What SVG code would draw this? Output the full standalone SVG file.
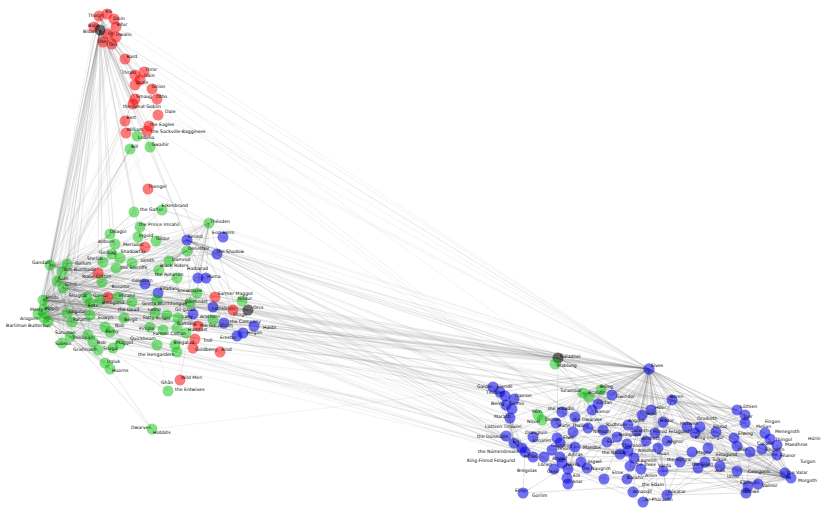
<svg xmlns="http://www.w3.org/2000/svg" width="830" height="518" viewBox="0 0 830 518">
<style>
text{font-family:"DejaVu Sans","Liberation Sans",sans-serif;font-size:4.6px;fill:#000}
circle{stroke:none}
.r{fill:#f00;fill-opacity:.52}
.g{fill:#00c000;fill-opacity:.48}
.b{fill:#0000e6;fill-opacity:.55}
.k{fill:#000;fill-opacity:.55}
.e{fill:none;stroke:#707070;stroke-opacity:.19;stroke-width:.45;stroke-linejoin:round}
.e2{fill:none;stroke:#707070;stroke-opacity:.24;stroke-width:.45;stroke-linejoin:round}
</style>
<rect width="830" height="518" fill="#fff"/>
<g id="connectors">
<path class="e" d="M100,30 99,16 100,30 107,14 100,30 114,19 100,30 94,27 100,30 116,27 100,30 108,34 100,30 116,37 100,30 103,42 100,30 112,44 100,30 125,59 100,30 135,99 100,30 144,72 100,30 135,75 100,30 140,80 100,30 133,104 100,30 125,121 100,30 126,133 100,30 149,126 100,30 147,131 100,30 137,136 100,30 150,147 100,30 50,265 100,30 43,300 100,30 57,281 100,30 67,264 100,30 38,314 100,30 44,309 100,30 44,318 100,30 98,273 100,30 187,240 100,30 63,288 100,30 67,313 100,30 102,282 100,30 48,322 100,30 62,272 100,30 116,268 100,30 70,337 100,30 110,234 100,30 134,212 100,30 155,313 100,30 233,310 100,30 157,99 100,30 649,369 100,30 558,358"/>
<path class="e" d="M99,16 107,14 99,16 94,27 99,16 116,37 99,16 125,59 99,16 135,99 99,16 144,72 99,16 135,85 99,16 140,80 99,16 135,75 99,16 133,104 99,16 50,265 99,16 43,300 99,16 187,240 99,16 649,369"/>
<path class="e" d="M125,59 152,89 M125,59 135,99 M125,59 158,115 M125,59 50,265 M125,59 649,369 M144,72 135,75 M144,72 50,265 M144,72 575,417 M135,75 140,80 M140,80 63,288 M140,80 575,417 M135,85 63,288 M135,85 575,417 M135,99 158,115 M135,99 50,265 M135,99 649,369 M152,89 649,369 M158,115 649,369 M125,121 126,133 M125,121 57,281 M126,133 57,281 M137,136 157,99 M137,136 147,131 M137,136 43,300 M147,131 43,300 M150,147 149,126 M150,147 50,265 M149,126 50,265 M149,126 627,444 M133,104 50,265 M94,27 43,300 M94,27 63,288 M94,27 103,42 M114,19 63,288 M114,19 43,300 M114,19 112,44 M114,19 649,369 M116,37 50,265 M112,44 63,288 M107,14 50,265 M103,42 50,265 M116,27 50,265 M108,34 63,288 M130,149 48,322"/>
<path class="e" d="M43,300 57,281 43,300 50,265 43,300 67,264 43,300 38,314 43,300 44,309 43,300 44,318 43,300 63,288 43,300 67,313 43,300 102,282 43,300 72,322 43,300 98,273 43,300 62,272 43,300 48,322 43,300 103,262 43,300 112,254 43,300 87,297 43,300 116,268 43,300 70,337 43,300 215,297 43,300 155,313 43,300 167,315 43,300 134,212 43,300 110,234 43,300 145,284 43,300 187,240 43,300 190,303 43,300 105,327 43,300 110,332 43,300 130,149 43,300 150,327 43,300 90,315 43,300 254,326 43,300 224,323 43,300 248,310 43,300 159,270 43,300 105,363 43,300 98,350 43,300 242,301 43,300 62,343 43,300 163,330 43,300 124,318 43,300 132,263 43,300 88,335 43,300 90,303 43,300 209,223 43,300 187,251 43,300 120,258 43,300 213,307 43,300 193,314 43,300 198,326 43,300 233,310 43,300 649,369 43,300 558,358 43,300 672,400 43,300 737,410"/>
<path class="e" d="M57,281 50,265 57,281 67,264 57,281 38,314 57,281 44,309 57,281 44,318 57,281 98,273 57,281 134,212 57,281 103,262 57,281 112,254 57,281 87,297 57,281 163,330 57,281 186,333 57,281 130,149 57,281 48,322 57,281 62,272 57,281 215,297 57,281 155,313 57,281 105,327 57,281 110,332 57,281 150,327 57,281 145,284 57,281 72,322 57,281 88,335 57,281 187,240 57,281 195,339 57,281 248,310 57,281 159,270 57,281 113,348 57,281 63,288 57,281 67,313 57,281 649,369 57,281 558,358 57,281 672,400 57,281 737,410 57,281 748,486"/>
<path class="e" d="M50,265 44,318 50,265 38,314 50,265 44,309 50,265 63,288 50,265 67,313 50,265 102,282 50,265 70,337 50,265 209,223 50,265 187,251 50,265 187,240 50,265 120,258 50,265 88,335 50,265 67,264 50,265 242,301 50,265 62,343 50,265 177,278 50,265 118,297 50,265 100,300 50,265 72,322 50,265 90,315 50,265 190,303 50,265 248,310 50,265 159,270 50,265 48,322 50,265 62,272 50,265 157,300 50,265 162,210 50,265 217,254 50,265 90,303 50,265 206,278 50,265 177,328 50,265 138,237 50,265 197,293 50,265 649,369 50,265 791,478 50,265 525,452 50,265 672,400"/>
<path class="e" d="M44,318 38,314 44,318 44,309 44,318 63,288 44,318 67,313 44,318 102,282 44,318 90,315 44,318 72,322 44,318 187,240 44,318 213,320 44,318 242,301 44,318 198,278 44,318 158,293 44,318 209,223 44,318 187,251 44,318 118,297 44,318 100,300 44,318 132,263 44,318 124,318 44,318 48,322 44,318 206,278 44,318 177,328 44,318 162,210 44,318 132,302 44,318 70,337 44,318 62,343 44,318 145,284 44,318 140,227 44,318 224,323 44,318 177,278 44,318 649,369 44,318 737,410 44,318 672,400 44,318 500,392 44,318 506,436 44,318 525,452 44,318 604,479"/>
<path class="e" d="M38,314 44,309 38,314 209,223 38,314 90,315 38,314 88,335 38,314 90,303 38,314 62,272 38,314 167,315 38,314 215,297 38,314 70,337 38,314 105,363 38,314 98,350 38,314 113,348 38,314 157,345 38,314 175,345 38,314 177,352 38,314 110,369 38,314 145,247 38,314 177,278 38,314 197,293 38,314 649,369"/>
<path class="e" d="M44,309 88,335 44,309 187,251 44,309 100,300 44,309 124,318 44,309 72,322 44,309 105,363 44,309 98,350 44,309 90,303 44,309 70,337 44,309 118,297 44,309 120,258 44,309 132,263 44,309 132,302 44,309 649,369 44,309 525,452"/>
<path class="e" d="M67,264 110,234 67,264 103,262 67,264 72,322 67,264 115,244 67,264 112,254 67,264 248,310 67,264 62,343 67,264 87,297 67,264 169,261"/>
<path class="e" d="M63,288 67,313 63,288 254,326 63,288 102,282 63,288 88,335 63,288 132,302 63,288 248,310 63,288 145,284 63,288 213,307 63,288 220,352 63,288 558,358 63,288 575,417 63,288 649,369"/>
<path class="e" d="M67,313 254,326 67,313 248,310 67,313 213,307 67,313 145,284 67,313 132,302 67,313 102,282 67,313 88,335 67,313 187,240 67,313 190,303 67,313 220,352 67,313 649,369"/>
<path class="e" d="M209,223 90,315 209,223 177,328 209,223 206,278 209,223 162,210 209,223 70,337 209,223 157,300 209,223 197,293 209,223 148,189 209,223 177,278 209,223 180,380 209,223 187,251 209,223 120,258 209,223 177,352 209,223 198,278 209,223 243,333 209,223 649,369"/>
<path class="e" d="M187,251 72,322 187,251 102,282 187,251 100,300 187,251 118,297 187,251 140,227 187,251 138,237 187,251 132,263 187,251 217,254 187,251 243,333 187,251 525,452 187,251 169,261 187,251 115,244"/>
<path class="e" d="M70,337 88,335 70,337 157,300 70,337 177,352 70,337 248,310 70,337 62,343 70,337 105,363 70,337 155,313 70,337 98,350 70,337 113,348 70,337 110,369 70,337 152,429 70,337 150,327"/>
<path class="e" d="M88,335 90,303 88,335 157,345 88,335 175,345 88,335 110,369 88,335 168,391 88,335 177,352 88,335 152,429"/>
<path class="e" d="M187,240 190,303 187,240 237,336 187,240 158,293 187,240 145,284 187,240 156,241 187,240 242,301 187,240 213,320 187,240 223,237 187,240 217,254 187,240 224,323 187,240 649,369 187,240 558,358 187,240 737,410 187,240 672,400 187,240 500,392 187,240 604,479 187,240 748,486 187,240 506,436 187,240 525,452 187,240 620,454 187,240 791,478 187,240 493,387"/>
<path class="e" d="M105,363 98,350 M105,363 113,348 M180,380 177,278 M168,391 90,303 M168,391 157,345 M193,348 62,272 M195,339 125,121 M195,339 126,133 M152,429 110,369 M152,429 649,369 M62,343 791,478 M62,343 525,452 M62,343 649,369 M62,343 500,392 M62,343 785,473 M102,282 525,452 M72,322 525,452 M72,322 506,436 M145,284 649,369 M145,284 770,439 M178,318 500,392 M178,318 649,369 M178,318 620,454 M178,318 525,452 M190,303 649,369 M190,303 620,454 M223,237 649,369 M223,237 525,452 M223,237 672,400 M217,254 791,478 M217,254 649,369 M217,254 737,410 M254,326 649,369 M254,326 617,437 M213,307 649,369 M213,307 544,457 M224,323 649,369 M224,323 562,412 M248,310 649,369 M248,310 791,478 M248,310 575,417 M248,310 560,443 M248,310 506,405 M237,336 649,369 M237,336 493,387 M237,336 514,443 M213,320 506,436 M213,320 500,392 M242,301 500,392 M242,301 525,452 M242,301 649,369 M193,314 649,369 M193,314 533,437 M158,293 649,369 M158,293 748,486 M162,210 649,369 M206,278 177,328 M206,278 510,418 M198,278 506,436 M220,352 583,393 M243,333 493,387 M87,297 112,254 M103,262 112,254 M118,297 100,300 M163,330 98,273 M134,212 98,273"/>
<path class="e" d="M558,358 145,284 558,358 213,307 558,358 254,326 558,358 649,369 558,358 745,423 558,358 716,432 558,358 777,455 558,358 620,454 558,358 557,438 558,358 555,364"/>
<path class="e2" d="M649,369 493,387 649,369 500,392 649,369 514,399 649,369 601,390 649,369 583,393 649,369 612,395 649,369 672,400 649,369 598,404 649,369 651,410 649,369 737,410 649,369 562,412 649,369 592,410 649,369 642,415 649,369 510,418 649,369 575,417 649,369 628,425 649,369 663,422 649,369 687,427 649,369 745,423 649,369 637,431 649,369 655,433 649,369 695,433 649,369 533,437 649,369 617,437 649,369 506,436 649,369 557,438 649,369 514,443 649,369 607,442 649,369 667,441 649,369 627,444 649,369 575,447 649,369 620,454 649,369 658,448 649,369 634,458 649,369 680,462 649,369 581,462 649,369 630,466 649,369 663,471 649,369 698,468 649,369 587,468 649,369 604,479 649,369 785,473 649,369 791,478 649,369 641,469 649,369 627,479 649,369 633,492 649,369 667,495 649,369 746,493 649,369 643,502 649,369 750,452 649,369 777,455 649,369 745,415 649,369 700,427 649,369 770,439 649,369 716,432 649,369 525,452 649,369 765,433 649,369 748,486 649,369 758,484"/>
<path class="e2" d="M791,478 672,400 791,478 737,410 791,478 745,423 791,478 750,452 791,478 777,455 791,478 785,473 791,478 746,493 791,478 588,428 791,478 583,393 791,478 770,439 791,478 777,445 791,478 745,415 791,478 765,433 791,478 716,432 791,478 667,495 791,478 748,486 791,478 758,484 791,478 560,443 791,478 762,449 791,478 737,446 791,478 695,433 791,478 658,448 791,478 663,471 791,478 720,466 791,478 705,462 791,478 620,454 791,478 687,427 791,478 663,422 791,478 642,415 791,478 627,479 791,478 523,493 791,478 533,437 791,478 700,427 791,478 708,448 791,478 737,471 791,478 692,452"/>
<path class="e2" d="M672,400 737,410 672,400 770,439 672,400 627,479 672,400 716,432 672,400 708,448 672,400 745,423 672,400 658,448 672,400 523,493 672,400 642,415 672,400 737,446 672,400 765,433 672,400 695,433 672,400 655,433 672,400 533,437 672,400 762,449 672,400 737,471 672,400 745,415 672,400 663,422 672,400 651,410"/>
<path class="e2" d="M583,393 601,390 583,393 589,397 583,393 592,410 583,393 542,420 583,393 538,415 583,393 556,423 583,393 588,428 583,393 687,427 583,393 612,395 583,393 562,412 583,393 575,417 583,393 555,364 583,393 598,404 583,393 663,422 583,393 651,410 583,393 770,439 583,393 745,423 583,393 617,437 583,393 603,430 583,393 607,442"/>
<path class="e2" d="M695,433 745,423 695,433 737,410 695,433 557,438 695,433 765,433 695,433 737,446 695,433 601,390 695,433 555,364 695,433 514,399 695,433 770,439 695,433 607,442 695,433 558,358 695,433 716,432 695,433 745,415 695,433 734,438 695,433 667,441"/>
<path class="e2" d="M525,452 604,479 525,452 643,502 525,452 506,436 525,452 633,492 525,452 533,457 525,452 500,392 525,452 493,387 525,452 514,443 525,452 522,448 525,452 523,493 525,452 785,473"/>
<path class="e2" d="M746,493 785,473 746,493 663,471 746,493 720,466 746,493 748,486 746,493 758,484 746,493 667,495 746,493 705,462 746,493 777,455 746,493 734,438 746,493 698,468 746,493 680,462 746,493 750,452 746,493 737,471"/>
<path class="e2" d="M667,495 785,473 667,495 663,471 667,495 720,466 667,495 514,443 667,495 643,502 667,495 633,492 667,495 630,466 667,495 680,462 667,495 698,468 667,495 641,469"/>
<path class="e2" d="M716,432 737,410 716,432 655,433 716,432 667,441 716,432 628,425 716,432 642,415 716,432 700,427 716,432 750,452 716,432 620,454 716,432 708,448 716,432 745,423 716,432 762,449 716,432 737,471 716,432 770,439"/>
<path class="e2" d="M777,455 750,452 777,455 777,445 777,455 692,452 777,455 762,449 777,455 737,471 777,455 620,454 777,455 758,484 777,455 770,439 777,455 745,423 777,455 734,438 777,455 737,446 777,455 637,431 777,455 560,457 777,455 562,463 777,455 698,468 777,455 575,447"/>
<path class="e2" d="M588,428 687,427 588,428 592,410 588,428 651,410 588,428 663,422 588,428 562,412 588,428 556,423 588,428 538,415 588,428 617,437 588,428 603,430 588,428 601,390 588,428 573,432 588,428 557,438 588,428 560,443 588,428 552,450"/>
<path class="e2" d="M514,443 522,448 514,443 506,436 514,443 493,387 514,443 500,392 514,443 505,396 514,443 510,418 514,443 506,405 514,443 512,409 514,443 533,457 514,443 544,457 514,443 554,469 514,443 568,469 514,443 552,450 514,443 560,457 514,443 560,443 514,443 533,437 514,443 568,484 514,443 567,478"/>
<path class="e2" d="M575,447 560,457 575,447 562,463 575,447 581,462 575,447 587,468 575,447 568,469 575,447 554,469 575,447 544,457 575,447 557,438 575,447 573,432 575,447 575,417 575,447 562,412 575,447 556,423 575,447 542,420 575,447 560,443 575,447 552,450 575,447 568,484 575,447 567,478 575,447 604,479 575,447 620,454 575,447 628,451 575,447 634,458 575,447 627,444 575,447 617,437 575,447 607,442"/>
<path class="e2" d="M663,471 630,466 663,471 634,458 663,471 641,469 663,471 698,468 663,471 680,462 663,471 705,462 663,471 720,466 663,471 785,473 663,471 737,471 663,471 627,479 663,471 633,492 663,471 643,502 663,471 604,479 663,471 658,448 663,471 646,441 663,471 637,431 663,471 667,441"/>
<path class="e2" d="M500,392 493,387 M493,387 505,396 M514,399 505,396 M506,405 512,409 M510,418 506,405 M533,437 522,448 M560,443 557,438 M575,447 560,457 M544,457 533,457 M568,469 554,469 M567,478 568,484 M581,462 587,468 M620,454 628,451 M630,466 634,458 M641,469 568,484 M627,479 604,479 M627,444 628,451 M646,441 642,415 M637,431 646,441 M658,448 667,441 M680,462 705,462 M698,468 720,466 M737,471 785,473 M555,364 598,404 M601,390 612,395 M592,410 598,404 M651,410 642,415 M663,422 651,410 M687,427 700,427"/>
</g>
<g id="nodes">
<g id="n-thorin"><circle class="r" cx="99" cy="16" r="5.5"/><text x="88" y="16.5">Thorin</text></g>
<g id="n-kili"><circle class="r" cx="107" cy="14" r="5.5"/><text x="105.5" y="13">Kili</text></g>
<g id="n-gloin"><circle class="r" cx="114" cy="19" r="5.5"/><text x="113" y="19.5">Gloin</text></g>
<g id="n-balin"><circle class="r" cx="94" cy="27" r="5.5"/><text x="88" y="26.5">Balin</text></g>
<g id="n-bifur"><circle class="r" cx="116" cy="27" r="5.5"/><text x="116.5" y="25.5">Bifur</text></g>
<g id="n-ori"><circle class="r" cx="108" cy="34" r="5.5"/><text x="108" y="35">Ori</text></g>
<g id="n-dwalin"><circle class="r" cx="116" cy="37" r="5.5"/><text x="116" y="35.5">Dwalin</text></g>
<g id="n-dori"><circle class="r" cx="103" cy="42" r="5.5"/><text x="98" y="43">Dori</text></g>
<g id="n-oin"><circle class="r" cx="112" cy="44" r="5.5"/><text x="109" y="45.5">Oin</text></g>
<g id="n-bilbo"><circle class="k" cx="100" cy="30" r="5.5"/><text x="83" y="33">Bilbo</text></g>
<g id="n-bard"><circle class="r" cx="125" cy="59" r="5.5"/><text x="126.5" y="57.5">Bard</text></g>
<g id="n-thror"><circle class="r" cx="144" cy="72" r="5.5"/><text x="145" y="70.5">Thror</text></g>
<g id="n-thrain"><circle class="r" cx="135" cy="75" r="5.5"/><text x="121.5" y="74">Thrain</text></g>
<g id="n-dain"><circle class="r" cx="140" cy="80" r="5.5"/><text x="144" y="77">Dain</text></g>
<g id="n-durin"><circle class="r" cx="135" cy="85" r="5.5"/><text x="136" y="84">Durin</text></g>
<g id="n-girion"><circle class="r" cx="152" cy="89" r="5.5"/><text x="151.5" y="87.5">Girion</text></g>
<g id="n-smaug"><circle class="r" cx="135" cy="99" r="5.5"/><text x="136" y="98">Smaug</text></g>
<g id="n-otho"><circle class="r" cx="157" cy="99" r="5.5"/><text x="156" y="97.5">Otho</text></g>
<g id="n-great-goblin"><circle class="r" cx="133" cy="104" r="5.5"/><text x="123" y="107.5">the Great Goblin</text></g>
<g id="n-dale"><circle class="r" cx="158" cy="115" r="5.5"/><text x="165" y="113">Dale</text></g>
<g id="n-bert"><circle class="r" cx="125" cy="121" r="5.5"/><text x="126.5" y="119">Bert</text></g>
<g id="n-eagles"><circle class="r" cx="149" cy="126" r="5.5"/><text x="150" y="126">the Eagles</text></g>
<g id="n-william"><circle class="r" cx="126" cy="133" r="5.5"/><text x="126.5" y="130.5">William</text></g>
<g id="n-sackville"><circle class="r" cx="147" cy="131" r="5.5"/><text x="151" y="132.5">the Sackville-Bagginses</text></g>
<g id="n-lobelia"><circle class="g" cx="137" cy="136" r="5.5"/><text x="138" y="139">Lobelia</text></g>
<g id="n-bill"><circle class="g" cx="130" cy="149" r="5.5"/><text x="131" y="148">Bill</text></g>
<g id="n-gwaihir"><circle class="g" cx="150" cy="147" r="5.5"/><text x="151.5" y="146">Gwaihir</text></g>
<g id="n-thengel"><circle class="r" cx="148" cy="189" r="5.5"/><text x="148" y="187.5">Thengel</text></g>
<g id="n-gaffer"><circle class="g" cx="134" cy="212" r="5.5"/><text x="140" y="210.5">the Gaffer</text></g>
<g id="n-erkenbrand"><circle class="g" cx="162" cy="210" r="5.5"/><text x="161.5" y="207">Erkenbrand</text></g>
<g id="n-theoden"><circle class="g" cx="209" cy="223" r="5.5"/><text x="210" y="223">Théoden</text></g>
<g id="n-prince-imrahil"><circle class="g" cx="140" cy="227" r="5.5"/><text x="139" y="225.5">the Prince Imrahil</text></g>
<g id="n-deagol"><circle class="g" cx="110" cy="234" r="5.5"/><text x="110" y="232.5">Déagol</text></g>
<g id="n-ingold"><circle class="g" cx="138" cy="237" r="5.5"/><text x="139" y="236.5">Ingold</text></g>
<g id="n-eorl-helm"><circle class="b" cx="223" cy="237" r="5.5"/><text x="212" y="234">Eorl Helm</text></g>
<g id="n-gildor"><circle class="g" cx="156" cy="241" r="5.5"/><text x="156" y="240">Gildor</text></g>
<g id="n-elrond"><circle class="b" cx="187" cy="240" r="5.5"/><text x="188" y="238">Elrond</text></g>
<g id="n-anborn"><circle class="g" cx="115" cy="244" r="5.5"/><text x="98" y="242.5">Anborn</text></g>
<g id="n-meriadoc"><circle class="r" cx="145" cy="247" r="5.5"/><text x="123" y="245.5">Meriadoc</text></g>
<g id="n-denethor"><circle class="g" cx="187" cy="251" r="5.5"/><text x="188" y="249.5">Denethor</text></g>
<g id="n-shadow"><circle class="b" cx="217" cy="254" r="5.5"/><text x="217" y="252.5">the Shadow</text></g>
<g id="n-gorbag"><circle class="g" cx="112" cy="254" r="5.5"/><text x="99" y="254">Gorbag</text></g>
<g id="n-shadowfax"><circle class="g" cx="120" cy="258" r="5.5"/><text x="120.5" y="252.5">Shadowfax</text></g>
<g id="n-shelob"><circle class="g" cx="103" cy="262" r="5.5"/><text x="87" y="259.5">Shelob</text></g>
<g id="n-ioreth"><circle class="g" cx="132" cy="263" r="5.5"/><text x="141" y="261.5">Ioreth</text></g>
<g id="n-damrod"><circle class="g" cx="169" cy="261" r="5.5"/><text x="172" y="261">Damrod</text></g>
<g id="n-shirriffs"><circle class="g" cx="116" cy="268" r="5.5"/><text x="120.5" y="269">the Shirriffs</text></g>
<g id="n-black-riders"><circle class="g" cx="159" cy="270" r="5.5"/><text x="160" y="266.5">Black Riders</text></g>
<g id="n-rosie"><circle class="r" cx="98" cy="273" r="5.5"/><text x="82" y="277.5">Rosie Cotton</text></g>
<g id="n-tom"><circle class="g" cx="62" cy="272" r="5.5"/><text x="63" y="270.5">Tom Bombadil</text></g>
<g id="n-gandalf"><circle class="g" cx="50" cy="265" r="5.5"/><text x="32" y="264">Gandalf</text></g>
<g id="n-gollum"><circle class="g" cx="67" cy="264" r="5.5"/><text x="75" y="264.5">Gollum</text></g>
<g id="n-sam"><circle class="g" cx="57" cy="281" r="5.5"/><text x="58" y="279.5">Sam</text></g>
<g id="n-gimli"><circle class="g" cx="63" cy="288" r="5.5"/><text x="65" y="286">Gimli</text></g>
<g id="n-boromir"><circle class="g" cx="102" cy="282" r="5.5"/><text x="111.5" y="287.5">Boromir</text></g>
<g id="n-celeborn"><circle class="b" cx="145" cy="284" r="5.5"/><text x="132" y="281.5">Celeborn</text></g>
<g id="n-elladan"><circle class="b" cx="158" cy="293" r="5.5"/><text x="160" y="289.5">Elladan</text></g>
<g id="n-rohirrim"><circle class="g" cx="177" cy="278" r="5.5"/><text x="155" y="275.5">the Rohirrim</text></g>
<g id="n-halbarad"><circle class="b" cx="198" cy="278" r="5.5"/><text x="187" y="270">Halbarad</text></g>
<g id="n-hama"><circle class="b" cx="206" cy="278" r="5.5"/><text x="207" y="277.5">Hama</text></g>
<g id="n-snowmane"><circle class="g" cx="197" cy="293" r="5.5"/><text x="177" y="292">Snowmane</text></g>
<g id="n-farmer-maggot"><circle class="r" cx="215" cy="297" r="5.5"/><text x="218" y="294.5">Farmer Maggot</text></g>
<g id="n-isildur"><circle class="g" cx="242" cy="301" r="5.5"/><text x="238" y="300">Isildur</text></g>
<g id="n-glorfindel"><circle class="g" cx="190" cy="303" r="5.5"/><text x="185" y="303">Glorfindel</text></g>
<g id="n-lothlorien"><circle class="b" cx="213" cy="307" r="5.5"/><text x="212" y="310">Lothlórien</text></g>
<g id="n-orcs"><circle class="k" cx="248" cy="310" r="5.5"/><text x="253" y="309">Orcs</text></g>
<g id="n-drogo"><circle class="r" cx="233" cy="310" r="5.5"/><text x="233" y="316">Drogo</text></g>
<g id="n-lady"><circle class="b" cx="193" cy="314" r="5.5"/><text x="182" y="317.5">Lady</text></g>
<g id="n-gil-galad"><circle class="g" cx="178" cy="318" r="5.5"/><text x="175" y="310.5">Gil-galad</text></g>
<g id="n-arathorn"><circle class="g" cx="213" cy="320" r="5.5"/><text x="200" y="317.5">Arathorn</text></g>
<g id="n-company"><circle class="b" cx="224" cy="323" r="5.5"/><text x="230" y="322.5">the Company</text></g>
<g id="n-haldir"><circle class="b" cx="254" cy="326" r="5.5"/><text x="263" y="328.5">Haldir</text></g>
<g id="n-galadhrim"><circle class="r" cx="198" cy="326" r="5.5"/><text x="200" y="326.5">the Galadhrim</text></g>
<g id="n-gamling"><circle class="g" cx="177" cy="328" r="5.5"/><text x="177" y="325">Gamling</text></g>
<g id="n-hamfast"><circle class="g" cx="186" cy="333" r="5.5"/><text x="188" y="331.2">Hamfast</text></g>
<g id="n-hirgon"><circle class="b" cx="243" cy="333" r="5.5"/><text x="247" y="334">Hirgon</text></g>
<g id="n-erestor"><circle class="b" cx="237" cy="336" r="5.5"/><text x="220" y="338.5">Erestor</text></g>
<g id="n-troll"><circle class="r" cx="195" cy="339" r="5.5"/><text x="203" y="341.5">Troll</text></g>
<g id="n-goldberry"><circle class="r" cx="193" cy="348" r="5.5"/><text x="195" y="350.5">Goldberry</text></g>
<g id="n-arod"><circle class="r" cx="220" cy="352" r="5.5"/><text x="221" y="350.5">Arod</text></g>
<g id="n-bregalad"><circle class="g" cx="175" cy="345" r="5.5"/><text x="173.5" y="344">Bregalad</text></g>
<g id="n-isengarders"><circle class="g" cx="177" cy="352" r="5.5"/><text x="138" y="355.5">the Isengarders</text></g>
<g id="n-quickbeam"><circle class="g" cx="157" cy="345" r="5.5"/><text x="130" y="339.5">Quickbeam</text></g>
<g id="n-farmer-cotton"><circle class="g" cx="163" cy="330" r="5.5"/><text x="153" y="334.5">Farmer Cotton</text></g>
<g id="n-pimple"><circle class="g" cx="150" cy="327" r="5.5"/><text x="139" y="329.5">Pimple</text></g>
<g id="n-fatty"><circle class="g" cx="167" cy="315" r="5.5"/><text x="143" y="318.5">Fatty Bolger</text></g>
<g id="n-lotho"><circle class="g" cx="155" cy="313" r="5.5"/><text x="148" y="310.5">Lotho</text></g>
<g id="n-grima"><circle class="g" cx="157" cy="300" r="5.5"/><text x="142" y="304.5">Grima Wormtongue</text></g>
<g id="n-bergil"><circle class="g" cx="124" cy="318" r="5.5"/><text x="124" y="320.5">Bergil</text></g>
<g id="n-the-dead"><circle class="g" cx="132" cy="302" r="5.5"/><text x="118" y="310.5">the Dead</text></g>
<g id="n-imrahil"><circle class="g" cx="118" cy="297" r="5.5"/><text x="119" y="296.5">Imrahil</text></g>
<g id="n-gamar"><circle class="r" cx="108" cy="297" r="5.5"/><text x="93" y="296.5">Gamar</text></g>
<g id="n-shagrat"><circle class="g" cx="87" cy="297" r="5.5"/><text x="69" y="296.5">Shagrat</text></g>
<g id="n-frodo"><circle class="g" cx="43" cy="300" r="5.5"/><text x="46" y="298.5">Frodo</text></g>
<g id="n-pippin"><circle class="g" cx="44" cy="309" r="5.5"/><text x="45" y="309.5">Pippin</text></g>
<g id="n-merry"><circle class="g" cx="38" cy="314" r="5.5"/><text x="30" y="310.5">Merry</text></g>
<g id="n-aragorn"><circle class="g" cx="44" cy="318" r="5.5"/><text x="20" y="320">Aragorn</text></g>
<g id="n-barliman"><circle class="g" cx="48" cy="322" r="5.5"/><text x="6" y="327">Barliman Butterbur</text></g>
<g id="n-ents"><circle class="g" cx="90" cy="303" r="5.5"/><text x="88" y="306.5">Ents</text></g>
<g id="n-beregond"><circle class="g" cx="100" cy="300" r="5.5"/><text x="102" y="303.5">Beregond</text></g>
<g id="n-legolas"><circle class="g" cx="67" cy="313" r="5.5"/><text x="69" y="313">Legolas</text></g>
<g id="n-faramir"><circle class="g" cx="72" cy="322" r="5.5"/><text x="73" y="320.5">Faramir</text></g>
<g id="n-eowyn"><circle class="g" cx="90" cy="315" r="5.5"/><text x="98" y="318.5">Eowyn</text></g>
<g id="n-nob"><circle class="g" cx="105" cy="327" r="5.5"/><text x="115" y="326.5">Nob</text></g>
<g id="n-ferny"><circle class="g" cx="110" cy="332" r="5.5"/><text x="106" y="333">Ferny</text></g>
<g id="n-saruman"><circle class="g" cx="70" cy="337" r="5.5"/><text x="55" y="333.5">Saruman</text></g>
<g id="n-treebeard"><circle class="g" cx="88" cy="335" r="5.5"/><text x="72" y="339">Treebeard</text></g>
<g id="n-sauron"><circle class="g" cx="62" cy="343" r="5.5"/><text x="55" y="344.5">Sauron</text></g>
<g id="n-bob"><circle class="g" cx="93" cy="342" r="5.5"/><text x="97" y="343.5">Bob</text></g>
<g id="n-maggot"><circle class="g" cx="120" cy="344" r="5.5"/><text x="116" y="343.5">Maggot</text></g>
<g id="n-grishnakh"><circle class="g" cx="98" cy="350" r="5.5"/><text x="73" y="350.5">Grishnakh</text></g>
<g id="n-snaga"><circle class="g" cx="113" cy="348" r="5.5"/><text x="103" y="349.5">Snaga</text></g>
<g id="n-ugluk"><circle class="g" cx="105" cy="363" r="5.5"/><text x="107" y="362.5">Ugluk</text></g>
<g id="n-huorns"><circle class="g" cx="110" cy="369" r="5.5"/><text x="112" y="372">Huorns</text></g>
<g id="n-wild-men"><circle class="r" cx="180" cy="380" r="5.5"/><text x="181" y="378.5">Wild Men</text></g>
<g id="n-ghan"><text x="161" y="383.5">Ghân</text></g>
<g id="n-entwives"><circle class="g" cx="168" cy="391" r="5.5"/><text x="175" y="390.5">the Entwives</text></g>
<g id="n-dwarves"><text x="131" y="428.5">Dwarves</text></g>
<g id="n-hobbits"><circle class="g" cx="152" cy="429" r="5.5"/><text x="153" y="434">Hobbits</text></g>
<g id="n-galadriel"><circle class="k" cx="558" cy="358" r="5.5"/><text x="560" y="357.5">Galadriel</text></g>
<g id="n-mablung"><circle class="g" cx="555" cy="364" r="5.5"/><text x="557" y="367">Mablung</text></g>
<g id="n-elves"><circle class="b" cx="649" cy="369" r="5.7"/><text x="651" y="367">Elves</text></g>
<g id="n-galdor"><circle class="b" cx="493" cy="387" r="5.5"/><text x="477" y="387.5">Galdor</text></g>
<g id="n-elendil"><circle class="b" cx="500" cy="392" r="5.5"/><text x="497" y="387.5">Elendil</text></g>
<g id="n-tinuviel"><circle class="b" cx="505" cy="396" r="5.5"/><text x="486" y="394">Tinúviel</text></g>
<g id="n-daeron"><circle class="b" cx="514" cy="399" r="5.5"/><text x="515" y="397">Daeron</text></g>
<g id="n-beleg"><circle class="g" cx="601" cy="390" r="5.5"/><text x="600" y="388">Beleg</text></g>
<g id="n-turambar"><circle class="g" cx="583" cy="393" r="5.5"/><text x="560" y="392">Turambar</text></g>
<g id="n-brandir"><circle class="g" cx="589" cy="397" r="5.5"/><text x="588" y="394">Brandir</text></g>
<g id="n-gwindor"><circle class="b" cx="612" cy="395" r="5.5"/><text x="616" y="398">Gwindor</text></g>
<g id="n-beren"><circle class="b" cx="672" cy="400" r="5.5"/><text x="670" y="398">Beren</text></g>
<g id="n-bereg"><circle class="b" cx="506" cy="405" r="5.5"/><text x="491" y="404.5">Bereg</text></g>
<g id="n-gelmir"><circle class="b" cx="512" cy="409" r="5.5"/><text x="509" y="404.5">Gelmir</text></g>
<g id="n-cirdan"><circle class="b" cx="598" cy="404" r="5.5"/><text x="597" y="403.5">Círdan</text></g>
<g id="n-huor"><circle class="b" cx="651" cy="410" r="5.5"/><text x="655" y="409">Húor</text></g>
<g id="n-luthien"><circle class="b" cx="737" cy="410" r="5.5"/><text x="740" y="407.5">Lúthien</text></g>
<g id="n-haladin"><circle class="b" cx="562" cy="412" r="5.5"/><text x="548" y="410">the Haladin</text></g>
<g id="n-mim"><circle class="g" cx="538" cy="415" r="5.5"/><text x="532" y="412.5">Mîm</text></g>
<g id="n-nienor"><circle class="b" cx="592" cy="410" r="5.5"/><text x="595" y="413">Nienor</text></g>
<g id="n-beor"><circle class="b" cx="642" cy="415" r="5.5"/><text x="647" y="415">Bëor</text></g>
<g id="n-tuor"><circle class="b" cx="745" cy="415" r="5.5"/><text x="743" y="417.5">Tuor</text></g>
<g id="n-marach"><circle class="b" cx="510" cy="418" r="5.5"/><text x="494" y="417.5">Marach</text></g>
<g id="n-niniel"><circle class="g" cx="542" cy="420" r="5.5"/><text x="527" y="422.5">Níniel</text></g>
<g id="n-dorlas"><circle class="b" cx="556" cy="423" r="5.5"/><text x="545" y="420.5">Dorlas</text></g>
<g id="n-the-dwarves"><circle class="b" cx="575" cy="417" r="5.5"/><text x="573" y="420.5">the Dwarves</text></g>
<g id="n-angrod"><circle class="b" cx="628" cy="425" r="5.5"/><text x="628" y="421.5">Angrod</text></g>
<g id="n-hador"><circle class="b" cx="663" cy="422" r="5.5"/><text x="660" y="421.5">Hador</text></g>
<g id="n-orodreth"><circle class="b" cx="700" cy="427" r="5.5"/><text x="697" y="419.5">Orodreth</text></g>
<g id="n-fingon"><text x="765" y="422.5">Fingon</text></g>
<g id="n-hurin-thalion"><circle class="b" cx="588" cy="428" r="5.5"/><text x="558" y="427">Húrin Thalion</text></g>
<g id="n-luthien-tinuviel"><text x="485" y="428">Lúthien Tinúviel</text></g>
<g id="n-radhruin"><circle class="b" cx="603" cy="430" r="5.5"/><text x="606" y="426">Radhruin</text></g>
<g id="n-morwen"><circle class="b" cx="687" cy="427" r="5.5"/><text x="680" y="425">Morwen</text></g>
<g id="n-finrod"><circle class="b" cx="716" cy="432" r="5.5"/><text x="713" y="428">Finrod</text></g>
<g id="n-melian"><circle class="b" cx="745" cy="423" r="5.5"/><text x="756" y="428">Melian</text></g>
<g id="n-caranthir"><circle class="b" cx="637" cy="431" r="5.5"/><text x="630" y="432">Caranthir</text></g>
<g id="n-finrod-felagund"><circle class="b" cx="655" cy="433" r="5.5"/><text x="653" y="433">Finrod Felagund</text></g>
<g id="n-king-thingol"><circle class="b" cx="695" cy="433" r="5.5"/><text x="695" y="438.5">King Thingol</text></g>
<g id="n-elwing"><circle class="b" cx="734" cy="438" r="5.5"/><text x="738" y="435">Elwing</text></g>
<g id="n-menegroth"><circle class="b" cx="765" cy="433" r="5.5"/><text x="775" y="433">Menegroth</text></g>
<g id="n-thingol"><circle class="b" cx="770" cy="439" r="5.5"/><text x="775" y="440.5">Thingol</text></g>
<g id="n-hurin"><text x="808" y="440">Húrin</text></g>
<g id="n-maedhros"><circle class="b" cx="777" cy="445" r="5.5"/><text x="785" y="445.5">Maedhros</text></g>
<g id="n-draugluin"><circle class="b" cx="533" cy="437" r="5.5"/><text x="525" y="434">Draugluin</text></g>
<g id="n-nimloth"><circle class="b" cx="573" cy="432" r="5.5"/><text x="593" y="433">Nimloth</text></g>
<g id="n-belegund"><circle class="b" cx="617" cy="437" r="5.5"/><text x="619" y="436">Belegund</text></g>
<g id="n-dunedain"><circle class="b" cx="506" cy="436" r="5.5"/><text x="477" y="438">the Dúnedain</text></g>
<g id="n-elwe"><circle class="b" cx="557" cy="438" r="5.5"/><text x="563" y="438.5">Elwë</text></g>
<g id="n-andreth"><circle class="b" cx="646" cy="441" r="5.5"/><text x="642" y="440">Andreth</text></g>
<g id="n-eru"><circle class="b" cx="514" cy="443" r="5.5"/><text x="513" y="443">Eru</text></g>
<g id="n-almaren"><circle class="b" cx="522" cy="448" r="5.5"/><text x="532" y="442">Almaren</text></g>
<g id="n-elu"><circle class="b" cx="607" cy="442" r="5.5"/><text x="607" y="443">Elu</text></g>
<g id="n-aegnor"><circle class="b" cx="667" cy="441" r="5.5"/><text x="667" y="443">Aegnor</text></g>
<g id="n-gothmog"><circle class="b" cx="560" cy="443" r="5.5"/><text x="551" y="446.5">Gothmog</text></g>
<g id="n-thorondor"><circle class="b" cx="627" cy="444" r="5.5"/><text x="622" y="447">Thorondor</text></g>
<g id="n-mandos"><circle class="b" cx="575" cy="447" r="5.5"/><text x="583" y="448.5">Mandos</text></g>
<g id="n-tirion"><circle class="b" cx="552" cy="450" r="5.5"/><text x="557" y="450">Tirion</text></g>
<g id="n-curufin"><circle class="b" cx="762" cy="449" r="5.5"/><text x="757" y="444.5">Curufin</text></g>
<g id="n-aredhel"><circle class="b" cx="628" cy="451" r="5.5"/><text x="638" y="451.5">Aredhel</text></g>
<g id="n-maglor"><circle class="b" cx="692" cy="452" r="5.5"/><text x="696" y="454">Maglor</text></g>
<g id="n-felagund"><circle class="b" cx="708" cy="448" r="5.5"/><text x="716" y="455.5">Felagund</text></g>
<g id="n-dior"><circle class="b" cx="737" cy="446" r="5.5"/><text x="738" y="451">Dior</text></g>
<g id="n-fingolfin"><circle class="b" cx="750" cy="452" r="5.5"/><text x="765" y="451">Fingolfin</text></g>
<g id="n-numenoreans"><circle class="b" cx="525" cy="452" r="5.5"/><text x="478" y="452.5">the Númenóreans</text></g>
<g id="n-miriel"><circle class="b" cx="533" cy="457" r="5.5"/><text x="524" y="458">Míriel</text></g>
<g id="n-lorien"><circle class="b" cx="544" cy="457" r="5.5"/><text x="538" y="465.5">Lórien</text></g>
<g id="n-noldor"><circle class="b" cx="620" cy="454" r="5.5"/><text x="602" y="454">the Noldor</text></g>
<g id="n-huan"><circle class="b" cx="658" cy="448" r="5.5"/><text x="657" y="455">Huan</text></g>
<g id="n-amras"><circle class="b" cx="560" cy="457" r="5.5"/><text x="568" y="455.5">Amras</text></g>
<g id="n-laurelin"><circle class="b" cx="634" cy="458" r="5.5"/><text x="638" y="461.5">Laurelin</text></g>
<g id="n-amrod"><circle class="b" cx="562" cy="463" r="5.5"/><text x="552" y="459.5">Amrod</text></g>
<g id="n-vanyar"><circle class="b" cx="680" cy="462" r="5.5"/><text x="667" y="461">the Vanyar</text></g>
<g id="n-tulkas"><circle class="b" cx="705" cy="462" r="5.5"/><text x="712" y="461">Tulkas</text></g>
<g id="n-king-finrod"><text x="467" y="461.5">King Finrod Felagund</text></g>
<g id="n-ingwe"><circle class="b" cx="581" cy="462" r="5.5"/><text x="588" y="463">Ingwë</text></g>
<g id="n-nessa"><circle class="b" cx="568" cy="469" r="5.5"/><text x="566" y="465.5">Nessa</text></g>
<g id="n-trees"><circle class="b" cx="630" cy="466" r="5.5"/><text x="635" y="466">the Trees</text></g>
<g id="n-varda"><circle class="b" cx="663" cy="471" r="5.5"/><text x="658" y="467">Varda</text></g>
<g id="n-teleri"><circle class="b" cx="698" cy="468" r="5.5"/><text x="692" y="466">the Teleri</text></g>
<g id="n-naugrim"><circle class="b" cx="587" cy="468" r="5.5"/><text x="582" y="469.5">the Naugrim</text></g>
<g id="n-bregolas"><text x="517" y="472">Bregolas</text></g>
<g id="n-osse"><circle class="b" cx="554" cy="469" r="5.5"/><text x="547" y="473">Ossë</text></g>
<g id="n-elros"><circle class="b" cx="604" cy="479" r="5.5"/><text x="612" y="473.5">Elros</text></g>
<g id="n-aule"><circle class="b" cx="720" cy="466" r="5.5"/><text x="715" y="472">Aulë</text></g>
<g id="n-celegorm"><circle class="b" cx="737" cy="471" r="5.5"/><text x="748" y="473">Celegorm</text></g>
<g id="n-valar"><circle class="b" cx="785" cy="473" r="5.5"/><text x="787" y="473.5">the Valar</text></g>
<g id="n-feanor"><circle class="b" cx="777" cy="455" r="5.5"/><text x="780" y="457">Fëanor</text></g>
<g id="n-turgon"><text x="800" y="463">Turgon</text></g>
<g id="n-eol"><circle class="b" cx="567" cy="478" r="5.5"/><text x="573" y="477">Eöl</text></g>
<g id="n-ulmo"><text x="727" y="478">Ulmo</text></g>
<g id="n-arien"><circle class="b" cx="641" cy="469" r="5.5"/><text x="645" y="476.5">Arien</text></g>
<g id="n-barahir"><circle class="b" cx="627" cy="479" r="5.5"/><text x="627" y="478.5">Barahir</text></g>
<g id="n-morgoth"><circle class="b" cx="791" cy="478" r="5.5"/><text x="798" y="482">Morgoth</text></g>
<g id="n-anar"><circle class="b" cx="568" cy="484" r="5.5"/><text x="572" y="483">Anar</text></g>
<g id="n-earendil"><circle class="b" cx="748" cy="486" r="5.5"/><text x="740" y="484">Eärendil</text></g>
<g id="n-valinor"><circle class="b" cx="758" cy="484" r="5.5"/><text x="762" y="486.5">Valinor</text></g>
<g id="n-edain"><text x="642" y="486">the Edain</text></g>
<g id="n-elinel"><text x="515" y="491.5">Elinel</text></g>
<g id="n-gorlim"><circle class="b" cx="523" cy="493" r="5.5"/><text x="532" y="497">Gorlim</text></g>
<g id="n-amandil"><circle class="b" cx="633" cy="492" r="5.5"/><text x="633" y="493">Amandil</text></g>
<g id="n-iluvatar"><circle class="b" cx="667" cy="495" r="5.5"/><text x="668" y="493">Ilúvatar</text></g>
<g id="n-manwe"><circle class="b" cx="746" cy="493" r="5.5"/><text x="743" y="492.5">Manwë</text></g>
<g id="n-ar-pharazon"><circle class="b" cx="643" cy="502" r="5.5"/><text x="645" y="501">Ar-Pharazôn</text></g>
</g>
</svg>
